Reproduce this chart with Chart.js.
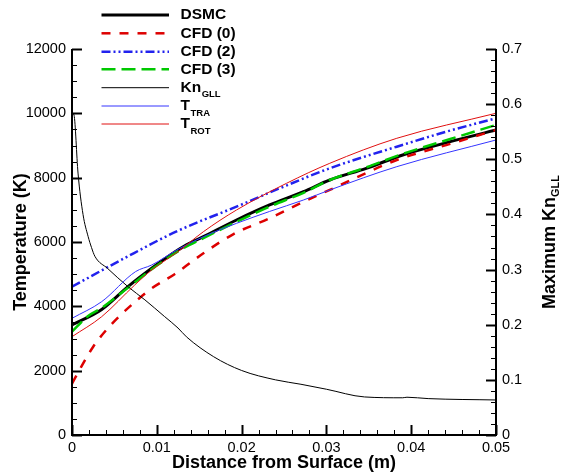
<!DOCTYPE html>
<html><head><meta charset="utf-8">
<script src="https://cdn.jsdelivr.net/npm/chart.js@4.4.1/dist/chart.umd.min.js"></script>
<style>html,body{margin:0;padding:0;background:#fff;overflow:hidden;}</style>
</head><body>
<canvas id="c" width="574" height="474" style="display:block;width:574px;height:474px"></canvas>
<script>
// ---- data ----
const xDsmc = [0, 0.0035, 0.0066, 0.0094, 0.0116, 0.0135, 0.0155, 0.0194, 0.0233, 0.0273, 0.0304, 0.0347, 0.039, 0.0446, 0.05];
const tDsmc = [3420, 3900, 4611, 5182, 5596, 5910, 6166, 6684, 7151, 7564, 7928, 8290, 8705, 9119, 9482];

const xCfd0 = [0, 0.0011, 0.0025, 0.0045, 0.0074, 0.0094, 0.0121, 0.0155, 0.019, 0.0233, 0.0273, 0.0304, 0.0383, 0.0446, 0.05];
const tCfd0 = [1600, 2124, 2745, 3400, 4130, 4560, 5000, 5649, 6240, 6737, 7250, 7620, 8550, 9050, 9482];

const xCfd2 = [0, 0.0062, 0.0125, 0.0194, 0.0245, 0.0304, 0.0383, 0.044, 0.05];
const tCfd2 = [4611, 5500, 6350, 7098, 7670, 8292, 8963, 9420, 9846];

const xCfd3 = [0, 0.0019, 0.0035, 0.0066, 0.0094, 0.0125, 0.0155, 0.0194, 0.0233, 0.0273, 0.0304, 0.0347, 0.039, 0.0446, 0.05];
const tCfd3 = [3212, 3700, 3950, 4580, 5150, 5710, 6120, 6630, 7100, 7530, 7928, 8320, 8740, 9200, 9638];

const xKn = [0, 0.00024, 0.00071, 0.0013, 0.0019, 0.0023, 0.0027, 0.0042, 0.0066, 0.0086, 0.0109, 0.0125, 0.0135, 0.0167, 0.020, 0.024, 0.027, 0.030, 0.0345, 0.039, 0.0395, 0.042, 0.050];
const knGll = [0.585, 0.58, 0.475, 0.40, 0.36, 0.34, 0.324, 0.302, 0.269, 0.245, 0.215, 0.194, 0.178, 0.142, 0.117, 0.100, 0.092, 0.083, 0.069, 0.0675, 0.0685, 0.066, 0.0635];

const xTra = [0, 0.0035, 0.0075, 0.0094, 0.0125, 0.0155, 0.0194, 0.0233, 0.0273, 0.0304, 0.0383, 0.05];
const tTra = [3628, 4145, 5080, 5285, 5773, 6166, 6580, 6950, 7306, 7617, 8342, 9171];

const xRot = [0, 0.0035, 0.0074, 0.0094, 0.0125, 0.0155, 0.0194, 0.0253, 0.0304, 0.0383, 0.05];
const tRot = [3057, 3678, 4664, 5130, 5700, 6321, 6995, 7825, 8447, 9224, 10002];

const legendNames = ['DSMC', 'CFD (0)', 'CFD (2)', 'CFD (3)', 'Kn', 'T', 'T'];
const legendSubs  = ['', '', '', '', 'GLL', 'TRA', 'ROT'];

const xMajor = [0, 0.01, 0.02, 0.03, 0.04, 0.05];
const xTickLabels = ['0', '0.01', '0.02', '0.03', '0.04', '0.05'];
const tMajor = [0, 2000, 4000, 6000, 8000, 10000, 12000];
const tTickLabels = ['0', '2000', '4000', '6000', '8000', '10000', '12000'];
const knMajor = [0, 0.1, 0.2, 0.3, 0.4, 0.5, 0.6, 0.7];
const knTickLabels = ['0', '0.1', '0.2', '0.3', '0.4', '0.5', '0.6', '0.7'];

const xTitle = 'Distance from Surface (m)';
const yTitle = 'Temperature (K)';
const y1Title = 'Maximum Kn';
const y1TitleSub = 'GLL';

// ---- helpers ----
function pts(xs, ys) { return xs.map((x, i) => ({x: x, y: ys[i]})); }
function steps(n, div) { const a = []; for (let i = 0; i <= n; i++) a.push(i / div); return a; }
const xTicks = steps(25, 500);          // every 0.002
const tTicks = steps(24, 1 / 500);      // every 500
const knTicks = steps(35, 50);          // every 0.02
function isMajor(v, majors) { return majors.findIndex(m => Math.abs(m - v) < 1e-9); }
function labeler(majors, labels) {
  return function (v) { const k = isMajor(v, majors); return k >= 0 ? labels[k] : ''; };
}

const FONT = '"Liberation Sans", Arial, Helvetica, sans-serif';
const tickFont = {family: FONT, size: 14.5};

const inwardTicks = {
  id: 'inwardTicks',
  afterDraw(chart) {
    const ctx = chart.ctx, a = chart.chartArea;
    const sx = chart.scales.x, sy = chart.scales.y, sy1 = chart.scales.y1;
    ctx.save();
    ctx.strokeStyle = '#000';
    ctx.lineCap = 'butt';
    // axis lines
    ctx.lineWidth = 2;
    ctx.beginPath();
    ctx.moveTo(a.left, a.top); ctx.lineTo(a.left, a.bottom + 1);
    ctx.moveTo(a.left - 1, a.bottom); ctx.lineTo(a.right + 1, a.bottom);
    ctx.moveTo(a.right, a.top); ctx.lineTo(a.right, a.bottom + 1);
    ctx.stroke();
    function tk(major) { ctx.lineWidth = major ? 2 : 1; return major ? 10 : 5; }
    sx.ticks.forEach(t => {
      const p = Math.round(sx.getPixelForValue(t.value)) + 0.5;
      const len = tk(isMajor(t.value, xMajor) >= 0);
      ctx.beginPath(); ctx.moveTo(p, a.bottom); ctx.lineTo(p, a.bottom - len); ctx.stroke();
    });
    sy.ticks.forEach(t => {
      const p = Math.round(sy.getPixelForValue(t.value)) + 0.5;
      const len = tk(isMajor(t.value, tMajor) >= 0);
      ctx.beginPath(); ctx.moveTo(a.left, p); ctx.lineTo(a.left + len, p); ctx.stroke();
    });
    sy1.ticks.forEach(t => {
      const p = Math.round(sy1.getPixelForValue(t.value)) + 0.5;
      const len = tk(isMajor(t.value, knMajor) >= 0);
      ctx.beginPath(); ctx.moveTo(a.right, p); ctx.lineTo(a.right - len, p); ctx.stroke();
    });

    // axis titles
    ctx.fillStyle = '#000';
    ctx.font = 'bold 18px ' + FONT;
    ctx.textAlign = 'center';
    ctx.textBaseline = 'alphabetic';
    ctx.fillText(xTitle, (a.left + a.right) / 2, 468);
    ctx.save();
    ctx.translate(26, (a.top + a.bottom) / 2);
    ctx.rotate(-Math.PI / 2);
    ctx.fillText(yTitle, 0, 0);
    ctx.restore();
    ctx.save();
    ctx.font = 'bold 18px ' + FONT;
    const w1 = ctx.measureText(y1Title).width;
    ctx.font = 'bold 11px ' + FONT;
    const w2 = ctx.measureText(y1TitleSub).width;
    ctx.translate(555, 242);
    ctx.rotate(-Math.PI / 2);
    ctx.textAlign = 'left';
    const x0 = -(w1 + w2) / 2;
    ctx.font = 'bold 18px ' + FONT;
    ctx.fillText(y1Title, x0, 0);
    ctx.font = 'bold 11px ' + FONT;
    ctx.fillText(y1TitleSub, x0 + w1, 4);
    ctx.restore();

    // legend
    const rows = [15, 33.3, 51.7, 69.3, 87.7, 106, 124];
    chart.data.datasets.forEach((ds, i) => {
      const y = rows[i];
      ctx.save();
      ctx.strokeStyle = ds.borderColor;
      ctx.lineWidth = ds.borderWidth;
      ctx.setLineDash(ds.borderDash || []);
      ctx.beginPath(); ctx.moveTo(101.5, y); ctx.lineTo(169, y); ctx.stroke();
      ctx.restore();
      ctx.font = 'bold 15.5px ' + FONT;
      ctx.textAlign = 'left';
      ctx.textBaseline = 'middle';
      ctx.fillText(legendNames[i], 180.5, y);
      if (legendSubs[i]) {
        const w = ctx.measureText(legendNames[i]).width;
        ctx.font = 'bold 9.5px ' + FONT;
        ctx.fillText(legendSubs[i], 180.5 + w + 0.5, y + 7);
      }
    });
    ctx.restore();
  }
};

const common = {pointRadius: 0, fill: false, cubicInterpolationMode: 'monotone', borderCapStyle: 'butt'};

new Chart(document.getElementById('c'), {
  type: 'line',
  data: {
    datasets: [
      Object.assign({label: 'DSMC', data: pts(xDsmc, tDsmc), borderColor: '#000000', borderWidth: 3, yAxisID: 'y', order: 6}, common),
      Object.assign({label: 'CFD (0)', data: pts(xCfd0, tCfd0), borderColor: '#dd0000', borderWidth: 2.5, borderDash: [9, 9], yAxisID: 'y', order: 5}, common),
      Object.assign({label: 'CFD (2)', data: pts(xCfd2, tCfd2), borderColor: '#2222ee', borderWidth: 2.5, borderDash: [9, 3, 2, 3, 2, 3], yAxisID: 'y', order: 4}, common),
      Object.assign({label: 'CFD (3)', data: pts(xCfd3, tCfd3), borderColor: '#00c800', borderWidth: 2.5, borderDash: [14, 6], yAxisID: 'y', order: 3}, common),
      Object.assign({label: 'Kn', data: pts(xKn, knGll), borderColor: '#000000', borderWidth: 1, yAxisID: 'y1', order: 2}, common),
      Object.assign({label: 'TTRA', data: pts(xTra, tTra), borderColor: '#3535ff', borderWidth: 1, yAxisID: 'y', order: 1}, common),
      Object.assign({label: 'TROT', data: pts(xRot, tRot), borderColor: '#e01010', borderWidth: 1, yAxisID: 'y', order: 0}, common)
    ]
  },
  options: {
    responsive: false,
    animation: false,
    devicePixelRatio: 1,
    layout: {padding: {top: 49, left: 0, right: 0, bottom: 0}},
    plugins: {legend: {display: false}, tooltip: {enabled: false}, title: {display: false}},
    elements: {line: {tension: 0}},
    scales: {
      x: {
        type: 'linear', position: 'bottom', min: 0, max: 0.05,
        afterBuildTicks(s) { s.ticks = xTicks.map(v => ({value: v})); },
        afterFit(s) { s.height = 39; },
        ticks: {autoSkip: false, maxRotation: 0, minRotation: 0, padding: 4, color: '#000', font: tickFont,
                callback: labeler(xMajor, xTickLabels)},
        grid: {display: false, drawTicks: false},
        border: {display: false}
      },
      y: {
        type: 'linear', position: 'left', min: 0, max: 12000,
        afterBuildTicks(s) { s.ticks = tTicks.map(v => ({value: v})); },
        afterFit(s) { s.width = 72; },
        ticks: {autoSkip: false, padding: 6, color: '#000', font: tickFont,
                callback: labeler(tMajor, tTickLabels)},
        grid: {display: false, drawTicks: false},
        border: {display: false}
      },
      y1: {
        type: 'linear', position: 'right', min: 0, max: 0.7,
        afterBuildTicks(s) { s.ticks = knTicks.map(v => ({value: v})); },
        afterFit(s) { s.width = 78; },
        ticks: {autoSkip: false, padding: 6, color: '#000', font: tickFont,
                callback: labeler(knMajor, knTickLabels)},
        grid: {display: false, drawTicks: false},
        border: {display: false}
      }
    }
  },
  plugins: [inwardTicks]
});
</script>
</body></html>
